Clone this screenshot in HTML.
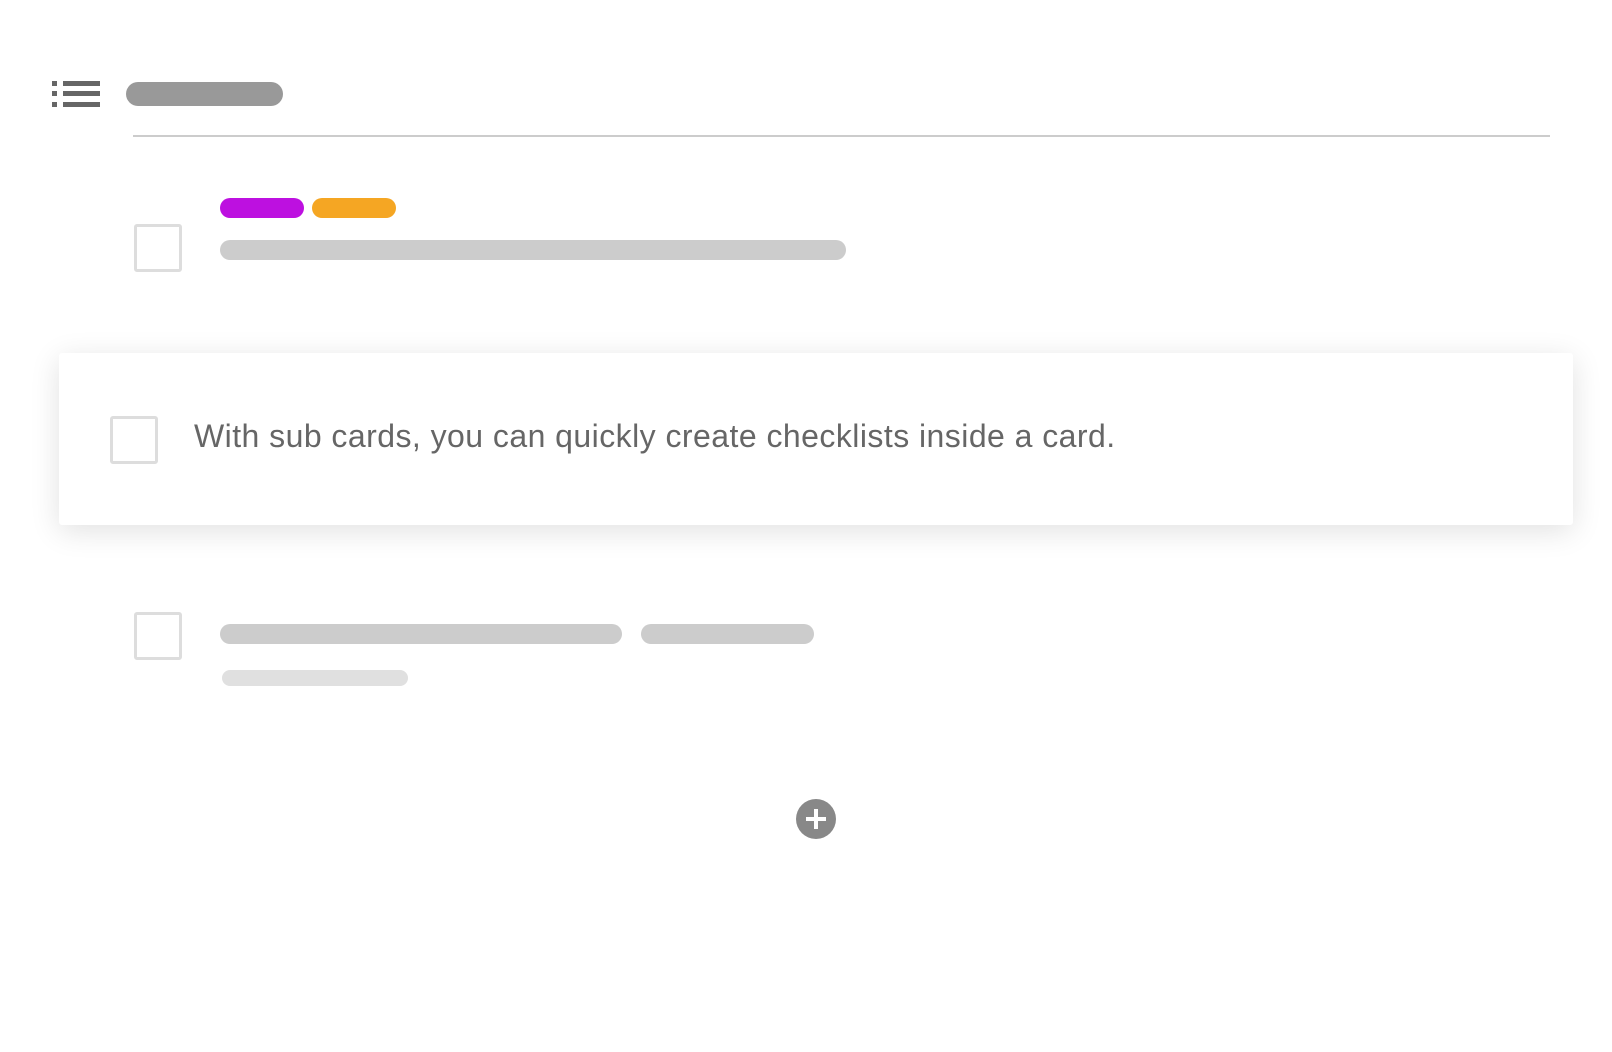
<!DOCTYPE html>
<html><head><style>
body{margin:0;width:1612px;height:1052px;background:#fff;position:relative;overflow:hidden;font-family:"Liberation Sans",sans-serif}
div{position:absolute}
.p{border-radius:12px}
.cb{border:3px solid #ddd;border-radius:3px;box-sizing:border-box;width:48px;height:48px;background:#fff}
</style></head><body>
<div style="left:52px;top:81px;width:5px;height:5px;background:#666"></div>
<div style="left:63px;top:81px;width:37px;height:5px;background:#666"></div>
<div style="left:52px;top:91px;width:5px;height:5px;background:#666"></div>
<div style="left:63px;top:91px;width:37px;height:5px;background:#666"></div>
<div style="left:52px;top:102px;width:5px;height:5px;background:#666"></div>
<div style="left:63px;top:102px;width:37px;height:5px;background:#666"></div>
<div class="p" style="left:126px;top:82px;width:157px;height:24px;background:#999"></div>
<div style="left:133px;top:135px;width:1417px;height:2px;background:#ccc"></div>
<div class="p" style="left:220px;top:198px;width:84px;height:20px;background:#bd10e0"></div>
<div class="p" style="left:312px;top:198px;width:84px;height:20px;background:#f5a623"></div>
<div class="cb" style="left:134px;top:224px"></div>
<div class="p" style="left:220px;top:240px;width:626px;height:20px;background:#ccc"></div>
<div style="left:59px;top:353px;width:1514px;height:172px;background:#fff;border-radius:3px;box-shadow:0 6px 30px rgba(0,0,0,0.12)"></div>
<div class="cb" style="left:110px;top:416px"></div>
<div style="left:194px;top:416px;font-size:32px;color:#666;white-space:nowrap;line-height:40px;letter-spacing:0.45px">With sub cards, you can quickly create checklists inside a card.</div>
<div class="cb" style="left:134px;top:612px"></div>
<div class="p" style="left:220px;top:624px;width:402px;height:20px;background:#ccc"></div>
<div class="p" style="left:641px;top:624px;width:173px;height:20px;background:#ccc"></div>
<div class="p" style="left:222px;top:670px;width:186px;height:16px;background:#e0e0e0"></div>
<div style="left:796px;top:799px;width:40px;height:40px;border-radius:50%;background:#888"></div>
<div style="left:806px;top:817px;width:20px;height:4px;background:#fff"></div>
<div style="left:814px;top:809px;width:4px;height:20px;background:#fff"></div>
</body></html>
